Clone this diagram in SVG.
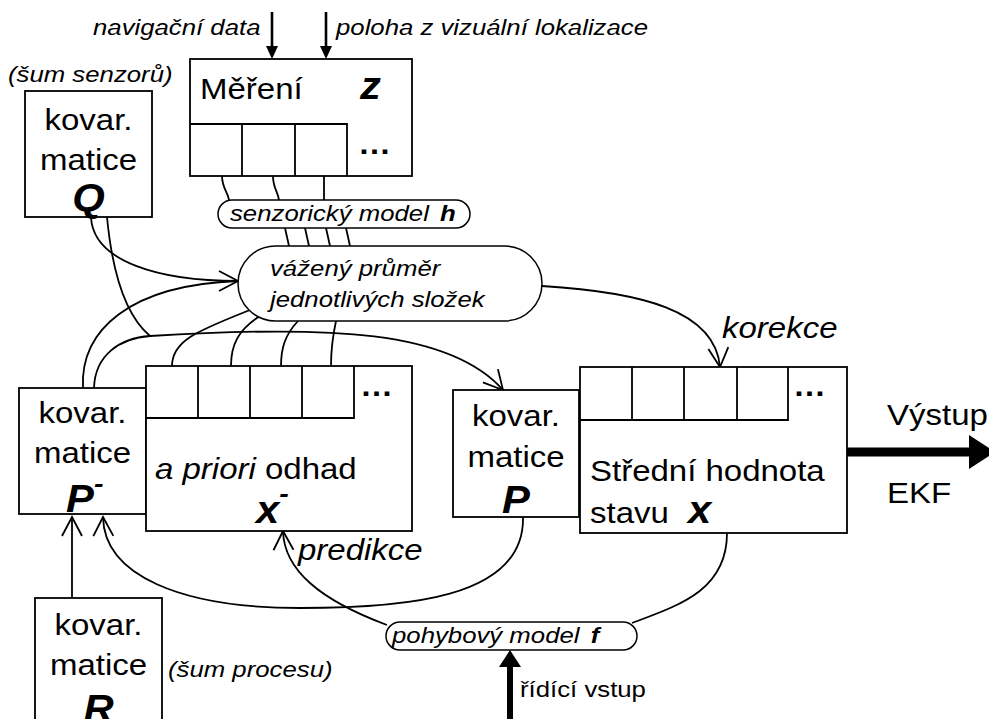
<svg xmlns="http://www.w3.org/2000/svg" width="989" height="719" viewBox="0 0 989 719">
<style>
text{font-family:"Liberation Sans",Arial,sans-serif;fill:#000}
.t{font-size:30px}
.d{font-size:30px;font-weight:bold}
.i{font-size:23px;font-style:italic}
.k{font-size:30px;font-style:italic}
.v{font-size:38px;font-weight:bold;font-style:italic}
.s{font-size:23px}
.box{fill:#fff;stroke:#000;stroke-width:1.8}
.ln{fill:none;stroke:#000;stroke-width:1.8}
.pill{fill:#fff;stroke:#000;stroke-width:1.5}
</style>
<defs>
<marker id="open" markerUnits="userSpaceOnUse" viewBox="0 0 22 24" refX="20" refY="12" markerWidth="22" markerHeight="24" orient="auto" overflow="visible">
<path d="M1,2 L20,12 L1,22" fill="none" stroke="#000" stroke-width="1.8"/>
</marker>
</defs>

<g id="connectors">
<path d="M272,12 L272,48" style="fill:none;stroke:#000;stroke-width:2.6"/>
<path d="M266,46 L272,59 L278,46 Z"/>
<path d="M326,12 L326,48" style="fill:none;stroke:#000;stroke-width:2.6"/>
<path d="M320,46 L326,59 L332,46 Z"/>
<path class="ln" d="M222,176 C222,188 228,192 229,200"/>
<path class="ln" d="M273,176 C273,188 278,192 279,200"/>
<path class="ln" d="M324,176 L324,200"/>
<path class="ln" d="M285,228 L289,246"/>
<path class="ln" d="M305,228 L309,246"/>
<path class="ln" d="M326,228 L330,246"/>
<path class="ln" d="M346,228 L350,246"/>
<path class="ln" d="M83,388 C80,330 130,285 238,281"/>
<path class="ln" d="M91,217 C93,262 160,281 238,281" marker-end="url(#open)"/>
<path class="ln" d="M107,217 C112,270 125,315 150,336"/>
<path class="ln" d="M94,388 C95,355 120,338 150,336 C330,325 450,330 503,390" marker-end="url(#open)"/>
<path class="ln" d="M250,310 C200,330 172,340 172,366"/>
<path class="ln" d="M260,316 C238,330 231,345 231,366"/>
<path class="ln" d="M298,321 C285,335 281,348 281,366"/>
<path class="ln" d="M336,321 C333,335 331,348 331,366"/>
<path class="ln" d="M542,286 C640,292 715,310 720,367" marker-end="url(#open)"/>
<path class="ln" d="M523,517 C525,600 400,608 300,608 C180,608 104,575 103,517" marker-end="url(#open)"/>
<path class="ln" d="M72,598 L72,517" marker-end="url(#open)"/>
<path class="ln" d="M727,533 C727,590 680,605 632,623"/>
<path class="ln" d="M387,625 C320,600 284,570 283,531" marker-end="url(#open)"/>
<path d="M510,719 L510,664" style="fill:none;stroke:#000;stroke-width:6"/>
<path d="M499,667 L510,650 L521,667 Z"/>
<path d="M847,452 L972,452" style="fill:none;stroke:#000;stroke-width:9"/>
<path d="M969,435 L995,452 L969,469 Z"/>
</g>

<g id="label-nav">
<text class="i" transform="translate(93,35) scale(1.12,1)">navigační data</text>
</g>
<g id="label-poloha">
<text class="i" transform="translate(336,35) scale(1.12,1)">poloha z vizuální lokalizace</text>
</g>
<g id="label-sum-senzoru">
<text class="i" transform="translate(8,82) scale(1.12,1)">(šum senzorů)</text>
</g>

<g id="mereni">
<rect class="box" x="190" y="59" width="222" height="117"/>
<path class="ln" d="M190,124 L347,124 L347,176 M242,124 L242,176 M295,124 L295,176"/>
<text class="t" transform="translate(200,99) scale(1.1,1)">Měření</text>
<text class="v" transform="translate(360,99) scale(1.1,1)">z</text>
<text class="d" transform="translate(358,154) scale(1.1,1)">…</text>
</g>

<g id="Q">
<rect class="box" x="25" y="91" width="127" height="126"/>
<text class="t" text-anchor="middle" transform="translate(88.5,130) scale(1.1,1)">kovar.</text>
<text class="t" text-anchor="middle" transform="translate(88.5,170) scale(1.1,1)">matice</text>
<text class="v" text-anchor="middle" transform="translate(88.5,211) scale(1.1,1)">Q</text>
</g>

<g id="senzoricky-model">
<rect class="pill" x="218" y="200" width="252" height="28" rx="14"/>
<text class="i" transform="translate(230,221) scale(1.12,1)">senzorický model<tspan dx="10" font-weight="bold">h</tspan></text>
</g>

<g id="vazeny-prumer">
<rect class="pill" x="238" y="246" width="304" height="75" rx="37.5"/>
<text class="i" transform="translate(270,276) scale(1.12,1)">vážený průměr</text>
<text class="i" transform="translate(270,307) scale(1.12,1)">jednotlivých složek</text>
</g>

<g id="P-minus">
<rect class="box" x="19" y="388" width="127" height="126"/>
<text class="t" text-anchor="middle" transform="translate(82.5,423) scale(1.1,1)">kovar.</text>
<text class="t" text-anchor="middle" transform="translate(82.5,463) scale(1.1,1)">matice</text>
<text class="v" transform="translate(66,512) scale(1.1,1)">P<tspan font-size="26" dy="-20">-</tspan></text>
</g>

<g id="x-minus">
<rect class="box" x="146" y="366" width="266" height="165"/>
<path class="ln" d="M146,418 L354,418 L354,366 M198,366 L198,418 M250,366 L250,418 M302,366 L302,418"/>
<text class="d" transform="translate(360,396) scale(1.1,1)">…</text>
<text class="t" transform="translate(155,479) scale(1.1,1)"><tspan font-style="italic">a priori</tspan> odhad</text>
<text class="v" transform="translate(256,523) scale(1.1,1)">x<tspan font-size="26" dy="-21">-</tspan></text>
</g>

<g id="P">
<rect class="box" x="453" y="390" width="126" height="127"/>
<text class="t" text-anchor="middle" transform="translate(516,426) scale(1.1,1)">kovar.</text>
<text class="t" text-anchor="middle" transform="translate(516,467) scale(1.1,1)">matice</text>
<text class="v" text-anchor="middle" transform="translate(516,513) scale(1.1,1)">P</text>
</g>

<g id="stav">
<rect class="box" x="580" y="367" width="267" height="166"/>
<path class="ln" d="M580,420 L788,420 L788,367 M632,367 L632,420 M684,367 L684,420 M737,367 L737,420"/>
<text class="d" transform="translate(793,396) scale(1.1,1)">…</text>
<text class="t" transform="translate(590,481) scale(1.1,1)">Střední hodnota</text>
<text class="t" transform="translate(590,523) scale(1.1,1)">stavu</text>
<text class="v" transform="translate(688,523) scale(1.1,1)">x</text>
</g>

<g id="label-korekce">
<text class="k" transform="translate(722,338) scale(1.1,1)">korekce</text>
</g>
<g id="label-vystup">
<text class="t" transform="translate(887,425) scale(1.1,1)">Výstup</text>
<text class="t" transform="translate(887,503) scale(1.1,1)">EKF</text>
</g>
<g id="label-predikce">
<text class="k" transform="translate(298,560) scale(1.1,1)">predikce</text>
</g>

<g id="pohybovy-model">
<rect class="pill" x="386" y="622" width="251" height="28" rx="14"/>
<text class="i" transform="translate(392,643) scale(1.12,1)">pohybový model<tspan dx="10" font-weight="bold">f</tspan></text>
</g>

<g id="R">
<rect class="box" x="35" y="598" width="127" height="140"/>
<text class="t" text-anchor="middle" transform="translate(98.5,635) scale(1.1,1)">kovar.</text>
<text class="t" text-anchor="middle" transform="translate(98.5,675) scale(1.1,1)">matice</text>
<text class="v" text-anchor="middle" transform="translate(98.5,722) scale(1.1,1)">R</text>
</g>
<g id="label-sum-procesu">
<text class="i" transform="translate(168,677) scale(1.12,1)">(šum procesu)</text>
</g>
<g id="label-ridici">
<text class="s" transform="translate(520,697) scale(1.12,1)">řídící vstup</text>
</g>
</svg>
